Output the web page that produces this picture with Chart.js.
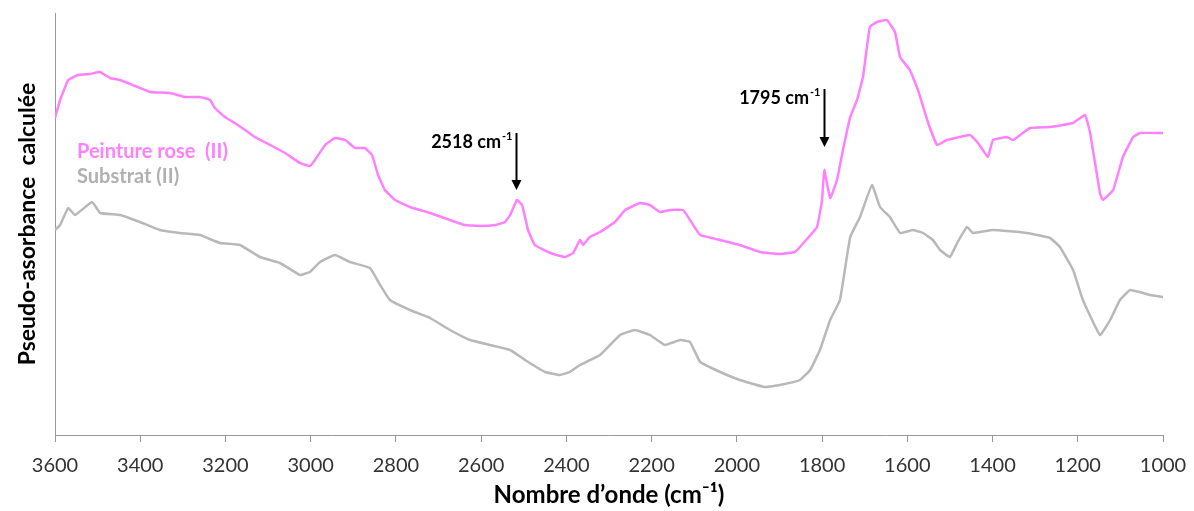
<!DOCTYPE html>
<html>
<head>
<meta charset="utf-8">
<script src="https://cdn.jsdelivr.net/npm/chart.js@4"></script>
<style>
  html, body { margin: 0; padding: 0; background: #fff; }
  #wrap { width: 1194px; height: 511px; }
</style>
</head>
<body>
<div id="wrap"><canvas id="c"></canvas></div>
<script>
// wavenumbers (cm-1) and pseudo-absorbance (arbitrary units)
const pinkX = [3600,3588,3569,3546,3518,3494,3471,3447,3412,3377,3330,3295,3260,3236,3225,3201,3178,3154,3131,3095,3060,3025,3002,2990,2966,2943,2919,2896,2873,2856,2842,2826,2802,2767,2720,2673,2638,2603,2567,2544,2532,2516,2504,2490,2474,2438,2403,2384,2368,2361,2345,2321,2286,2262,2227,2204,2180,2157,2126,2110,2086,2039,1993,1946,1899,1864,1852,1812,1800,1795,1781,1765,1751,1734,1718,1704,1688,1671,1648,1629,1617,1594,1575,1551,1530,1507,1453,1434,1411,1399,1366,1352,1312,1265,1211,1183,1171,1148,1141,1117,1094,1070,1054,1000];
const pinkY = [317,335,355,360,361,363,357,355,349,343,342,338,338,335,327,318,312,305,298,290,282,272,269,275,290,297,295,287,287,280,260,245,235,228,222,215,210,209,210,213,220,235,230,205,190,182,178,182,195,190,198,203,213,225,232,230,223,225,225,215,200,195,190,183,181,183,188,208,235,265,237,255,285,318,335,358,408,413,415,403,378,365,345,312,290,295,300,292,278,295,298,295,307,308,312,320,302,242,235,245,278,298,302,302];

const grayX = [3600,3588,3569,3553,3513,3494,3447,3401,3354,3307,3260,3213,3166,3119,3072,3025,3002,2978,2943,2908,2861,2837,2814,2767,2720,2673,2626,2579,2532,2497,2450,2415,2392,2368,2321,2274,2239,2204,2169,2133,2110,2086,2039,1993,1934,1899,1852,1828,1805,1781,1758,1734,1711,1683,1664,1641,1617,1587,1563,1540,1523,1500,1483,1460,1446,1399,1319,1265,1242,1211,1188,1148,1124,1101,1077,1030,1000];
const grayY = [205,210,227,220,233,222,220,213,205,202,200,192,190,178,172,160,163,173,180,173,167,150,135,125,117,105,95,90,85,75,63,60,63,70,80,100,105,100,90,95,93,73,63,55,48,50,55,65,85,115,135,198,218,250,228,218,202,205,202,195,185,178,192,208,202,205,202,197,188,165,135,100,115,135,145,140,138];

const xTicks = [3600,3400,3200,3000,2800,2600,2400,2200,2000,1800,1600,1400,1200,1000];

// peak annotations: wavenumber, arrow top and tip (data units), label
const peaks = [
  { x: 2518, top: 302, tip: 245, label: '2518 cm' },
  { x: 1795, top: 346, tip: 288, label: '1795 cm' }
];

const pink = '#ff80ff';
const gray = '#b8b8b8';
const FONT = 'Lato, "Open Sans", sans-serif';

const annot = {
  id: 'annot',
  afterDatasetsDraw(chart) {
    const ctx = chart.ctx;
    const xs = chart.scales.x, ys = chart.scales.y;
    ctx.save();
    peaks.forEach(p => {
      const px = Math.round(xs.getPixelForValue(p.x)) + 0.5;
      const y0 = ys.getPixelForValue(p.top);
      const y1 = ys.getPixelForValue(p.tip);
      ctx.strokeStyle = '#000';
      ctx.lineWidth = 2;
      ctx.beginPath();
      ctx.moveTo(px, y0);
      ctx.lineTo(px, y1 - 8);
      ctx.stroke();
      ctx.fillStyle = '#000';
      ctx.beginPath();
      ctx.moveTo(px - 5, y1 - 10);
      ctx.lineTo(px + 5, y1 - 10);
      ctx.lineTo(px, y1);
      ctx.closePath();
      ctx.fill();
      // label with superscript -1
      const mainFont = 'bold 18px ' + FONT;
      const supFont = 'bold 11px ' + FONT;
      ctx.textBaseline = 'alphabetic';
      ctx.textAlign = 'left';
      ctx.font = mainFont;
      const w1 = ctx.measureText(p.label).width;
      ctx.font = supFont;
      const w2 = ctx.measureText('-1').width;
      const tx = px - 5 - w1 - w2;
      const ty = y0 + 15;
      ctx.font = mainFont;
      ctx.fillText(p.label, tx, ty);
      ctx.font = supFont;
      ctx.fillText('-1', tx + w1 + 1, ty - 8);
    });
    // series labels
    ctx.font = 'bold 20px ' + FONT;
    ctx.textAlign = 'left';
    ctx.fillStyle = pink;
    ctx.fillText('Peinture rose  (II)', 77, 158);
    ctx.fillStyle = '#b0b0b0';
    ctx.fillText('Substrat (II)', 77, 183);
    ctx.restore();
  }
};

new Chart(document.getElementById('c'), {
  type: 'line',
  data: {
    datasets: [
      {
        label: 'Peinture rose (II)',
        data: pinkX.map((x, i) => ({ x: x, y: pinkY[i] })),
        borderColor: pink,
        borderWidth: 2.5,
        pointRadius: 0,
        tension: 0.1,
        fill: false
      },
      {
        label: 'Substrat (II)',
        data: grayX.map((x, i) => ({ x: x, y: grayY[i] })),
        borderColor: gray,
        borderWidth: 2.5,
        pointRadius: 0,
        tension: 0.1,
        fill: false
      }
    ]
  },
  options: {
    responsive: true,
    maintainAspectRatio: false,
    animation: false,
    layout: { padding: { top: 13, right: 31, left: 0, bottom: 0 } },
    plugins: { legend: { display: false }, tooltip: { enabled: false } },
    scales: {
      x: {
        type: 'linear',
        reverse: true,
        min: 1000,
        max: 3600,
        afterBuildTicks: s => { s.ticks = xTicks.map(v => ({ value: v })); },
        afterFit: s => { s.height = 76; s.paddingLeft = 0; s.paddingRight = 0; },
        ticks: {
          color: '#333',
          font: { family: FONT, size: 20 },
          maxRotation: 0,
          padding: 12,
          callback: v => String(v)
        },
        grid: { display: true, drawOnChartArea: false, drawTicks: true, tickLength: 7, color: '#999' },
        border: { display: true, color: '#999', width: 1 },
        title: {
          display: true,
          text: 'Nombre d\u2019onde (cm\u207B\u00B9)',
          color: '#000',
          font: { family: FONT, size: 24, weight: 'bold' },
          padding: { top: 0, bottom: 1 }
        }
      },
      y: {
        min: 0,
        max: 422,
        afterFit: s => { s.width = 55; },
        ticks: { display: false },
        grid: { display: false },
        border: { display: true, color: '#999', width: 1 },
        title: {
          display: true,
          text: 'Pseudo-asorbance  calcul\u00e9e',
          color: '#000',
          font: { family: FONT, size: 23, weight: 'bold' },
          padding: { top: 14, bottom: 0 }
        }
      }
    }
  },
  plugins: [annot]
});
</script>
</body>
</html>
